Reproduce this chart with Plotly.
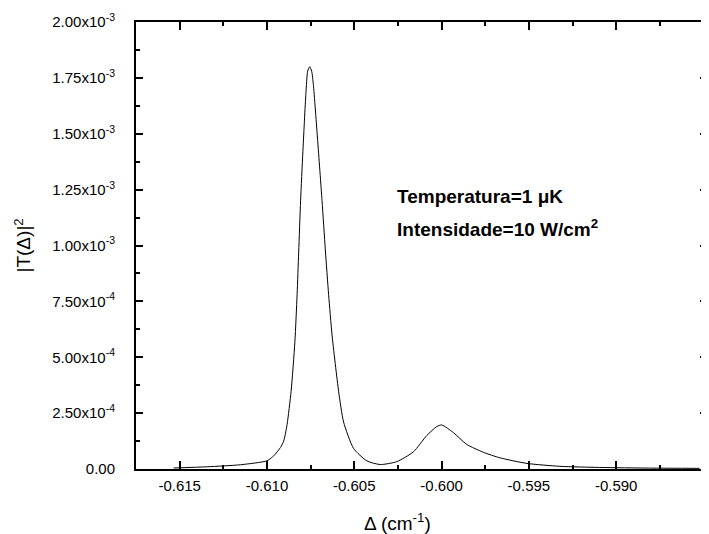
import plotly.graph_objects as go

# Detuning (cm^-1) and transmission |T(Δ)|^2
delta = [-0.615343, -0.613417, -0.611514, -0.609989, -0.609611, -0.609229, -0.609040,
         -0.608846, -0.608617, -0.608400, -0.608274, -0.608183, -0.608074, -0.607943,
         -0.607771, -0.607669, -0.607554, -0.607440, -0.607343, -0.607097, -0.606846,
         -0.606657, -0.606469, -0.606274, -0.605897, -0.605611, -0.605040, -0.604274,
         -0.603514, -0.602560, -0.601611, -0.600846, -0.600274, -0.599989, -0.599326,
         -0.598560, -0.597611, -0.596657, -0.595114, -0.593229, -0.590943, -0.588086,
         -0.585229]
trans = [4.5e-6, 1.0e-5, 1.9e-5, 3.7e-5, 5.9e-5, 9.6e-5, 1.25e-4,
         2.0e-4, 3.48e-4, 5.7e-4, 7.8e-4, 9.7e-4, 1.2e-3, 1.42e-3,
         1.68e-3, 1.78e-3, 1.80e-3, 1.78e-3, 1.72e-3, 1.47e-3, 1.2e-3,
         9.8e-4, 7.8e-4, 6.0e-4, 3.48e-4, 2.1e-4, 9.2e-5, 3.6e-5,
         2.0e-5, 3.3e-5, 7.7e-5, 1.5e-4, 1.9e-4, 1.97e-4, 1.63e-4,
         1.1e-4, 7.5e-5, 5.0e-5, 2.5e-5, 1.2e-5, 7e-6, 4e-6,
         3e-6]

x_ticks = [-0.615, -0.610, -0.605, -0.600, -0.595, -0.590]
x_ticktext = ["-0.615", "-0.610", "-0.605", "-0.600", "-0.595", "-0.590"]
y_ticks = [0, 2.5e-4, 5.0e-4, 7.5e-4, 1.0e-3, 1.25e-3, 1.5e-3, 1.75e-3, 2.0e-3]
y_ticktext = ["0.00", "2.50x10<sup>-4</sup>", "5.00x10<sup>-4</sup>", "7.50x10<sup>-4</sup>",
              "1.00x10<sup>-3</sup>", "1.25x10<sup>-3</sup>", "1.50x10<sup>-3</sup>",
              "1.75x10<sup>-3</sup>", "2.00x10<sup>-3</sup>"]
x_minor = [-0.6175, -0.6125, -0.6075, -0.6025, -0.5975, -0.5925, -0.5875]
y_minor = [1.25e-4, 3.75e-4, 6.25e-4, 8.75e-4, 1.125e-3, 1.375e-3, 1.625e-3, 1.875e-3]

FONT = "Liberation Sans, Arial, sans-serif"

fig = go.Figure()
fig.add_trace(go.Scatter(x=delta, y=trans, mode="lines",
                         line=dict(color="black", width=1, shape="spline", smoothing=0.6),
                         showlegend=False, hoverinfo="skip"))

PW, PH = 571, 447  # plot area size in px

fig.update_layout(
    width=701, height=526,
    margin=dict(l=128, r=2, t=14, b=65),
    paper_bgcolor="white", plot_bgcolor="white",
    font=dict(family=FONT, color="black", size=15),
    xaxis=dict(range=[-0.6175, -0.5848], tickvals=x_ticks, ticktext=x_ticktext,
               ticks="inside", ticklen=8, tickwidth=1.5, tickcolor="black",
               showline=True, linecolor="black", linewidth=2, mirror="allticks",
               showgrid=False, zeroline=False, ticklabelstandoff=2, automargin=False,
               tickfont=dict(size=15, family=FONT),
               minor=dict(tickvals=x_minor, ticks="inside", ticklen=4, tickcolor="black",
                          tickwidth=1.5, showgrid=False)),
    yaxis=dict(range=[0, 2.0e-3], tickvals=y_ticks, ticktext=y_ticktext,
               ticks="inside", ticklen=7, tickwidth=1.5, tickcolor="black",
               showline=True, linecolor="black", linewidth=2, mirror="allticks",
               showgrid=False, zeroline=False, ticklabelstandoff=16, automargin=False,
               tickfont=dict(size=15, family=FONT),
               minor=dict(tickvals=y_minor, ticks="inside", ticklen=4, tickcolor="black",
                          tickwidth=1.5, showgrid=False)),
    annotations=[
        dict(text="|T(Δ)|<sup>2</sup>", xref="paper", yref="paper", x=(22 - 136) / PW,
             y=0.5, xanchor="center", yanchor="middle", textangle=-90, showarrow=False,
             font=dict(size=19, family=FONT)),
        dict(text="Δ (cm<sup>-1</sup>)", xref="paper", yref="paper", x=(397 - 136) / PW,
             y=(469 - 522) / PH, xanchor="center", yanchor="middle", showarrow=False,
             font=dict(size=19, family=FONT)),
        dict(text="<b>Temperatura=1 μK</b>", xref="paper", yref="paper", x=(395 - 136) / PW,
             y=(469 - 196) / PH, xanchor="left", yanchor="middle", showarrow=False,
             font=dict(size=19, family=FONT)),
        dict(text="<b>Intensidade=10 W/cm<sup>2</sup></b>", xref="paper", yref="paper",
             x=(395 - 136) / PW, y=(469 - 228) / PH, xanchor="left", yanchor="middle",
             showarrow=False, font=dict(size=19, family=FONT)),
    ],
)

fig.write_html("out.html")
